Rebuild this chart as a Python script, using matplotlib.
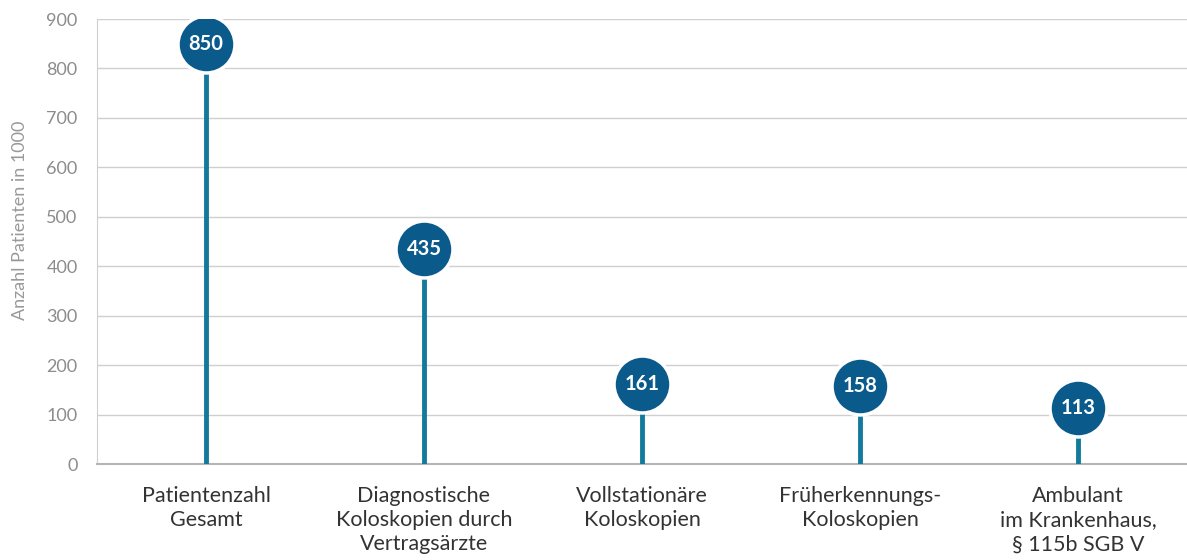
import matplotlib
matplotlib.use("Agg")
import matplotlib.pyplot as plt

# Daten
KATEGORIEN = [
    "Patientenzahl\nGesamt",
    "Diagnostische\nKoloskopien durch\nVertragsärzte",
    "Vollstationäre\nKoloskopien",
    "Früherkennungs-\nKoloskopien",
    "Ambulant\nim Krankenhaus,\n§ 115b SGB V",
]
WERTE = [850, 435, 161, 158, 113]
Y_TICKS = [0, 100, 200, 300, 400, 500, 600, 700, 800, 900]

STEM_COLOR = "#137a9c"
DOT_COLOR = "#0a5b8c"
GRID_COLOR = "#cfcfcf"
TICK_COLOR = "#8c8c8c"

plt.rcParams["font.family"] = ["Lato", "DejaVu Sans"]

fig = plt.figure(figsize=(11.87, 5.6), dpi=100)
ax = fig.add_axes([0.0817, 0.1714, 0.9183, 0.7946])

x = list(range(len(WERTE)))

# Stiele
ax.vlines(x, 0, WERTE, color=STEM_COLOR, linewidth=3.5, zorder=3)
# Kreise
ax.plot(x, WERTE, "o", markersize=41, markerfacecolor=DOT_COLOR,
        markeredgecolor="white", markeredgewidth=2.5, zorder=4, linestyle="none")
for xi, v in zip(x, WERTE):
    ax.text(xi, v, str(v), ha="center", va="center", color="white",
            fontsize=14.5, fontweight="bold", zorder=5)

ax.set_xlim(-0.5, len(WERTE) - 0.5)
ax.set_ylim(0, 900)
ax.set_yticks(Y_TICKS)
ax.set_xticks(x)
ax.set_xticklabels(KATEGORIEN, fontsize=15.5, color="#333333", linespacing=1.25)
ax.tick_params(axis="x", length=0, pad=16)
ax.tick_params(axis="y", length=0, pad=14, labelsize=13, labelcolor=TICK_COLOR)

ax.grid(axis="y", color=GRID_COLOR, linewidth=1)
ax.set_axisbelow(True)
for s in ["top", "right"]:
    ax.spines[s].set_visible(False)
ax.spines["left"].set_color(GRID_COLOR)
ax.spines["bottom"].set_color("#b5b5b5")
ax.spines["bottom"].set_linewidth(1.5)

fig.text(0.017, 0.607, "Anzahl Patienten in 1000", rotation=90, ha="center",
         va="center", fontsize=13, color="#999999")

fig.savefig("out.png", dpi=100)
